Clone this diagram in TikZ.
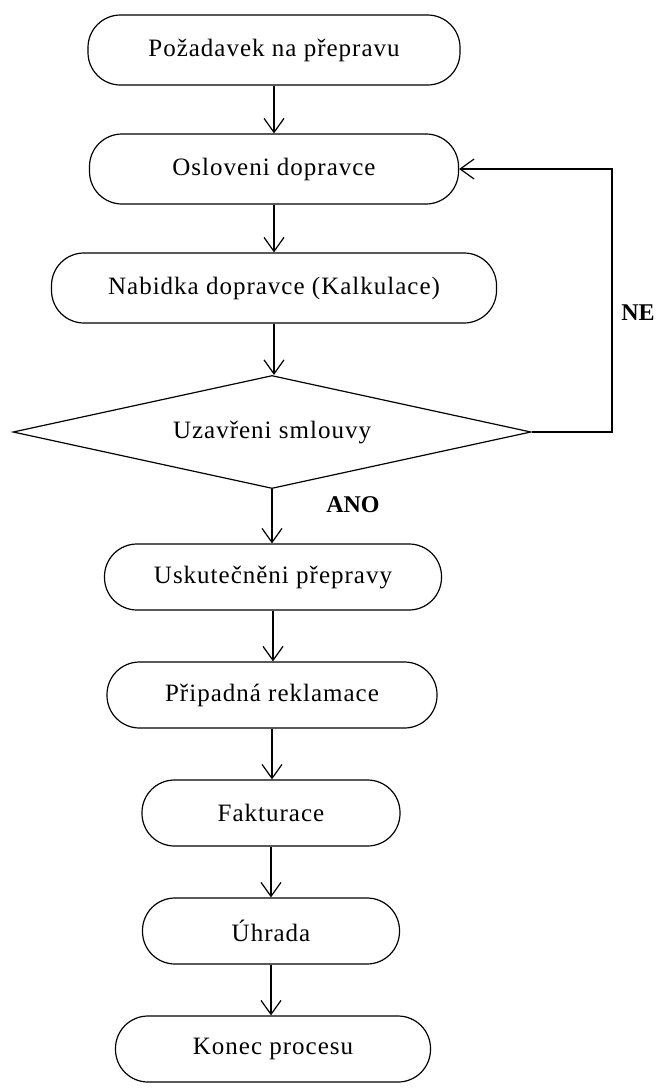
\documentclass[tikz,border=0pt]{standalone}
\usepackage{fontspec}
\setmainfont{Liberation Serif}[LetterSpace=4]
\usetikzlibrary{arrows.meta,shapes.geometric}
\begin{document}
\begin{tikzpicture}[x=1pt,y=-1pt,
  term/.style={draw,line width=1.2pt,rounded corners=32.5pt,inner sep=0pt,minimum height=70pt,
    font=\fontsize{25}{29}\selectfont},
  decision/.style={draw,line width=1.2pt,diamond,inner sep=0pt,aspect=4.6,minimum width=518pt,minimum height=113pt,
    font=\fontsize{25}{29}\selectfont},
  lbl/.style={font=\fontsize{24}{28}\selectfont\bfseries\addfontfeature{LetterSpace=0}},
  arr/.style={line width=1.2pt,-{Straight Barb[length=14pt,width=20pt,line width=1.2pt]}}]
\useasboundingbox (0,0) rectangle (671,1090);
\node[term,minimum width=372pt] (n1) at (274,50) {Požadavek na přepravu};
\node[term,minimum width=369pt] (n2) at (274,169) {Osloveni dopravce};
\node[term,minimum width=445pt] (n3) at (274,288) {Nabidka dopravce (Kalkulace)};
\node[decision] (d) at (272,432) {Uzavřeni smlouvy};
\node[term,minimum width=337pt,minimum height=66pt] (n5) at (273,577) {Uskutečněni přepravy};
\node[term,minimum width=330pt,minimum height=66pt] (n6) at (272,695) {Připadná reklamace};
\node[term,minimum width=258pt,minimum height=66pt] (n7) at (271,813) {Fakturace};
\node[term,minimum width=257pt,minimum height=66pt] (n8) at (271,931) {Úhrada};
\node[term,minimum width=315pt,minimum height=66pt] (n9) at (273,1049) {Konec procesu};
\node[lbl] (ano) at (353,505) {ANO};
\node[lbl] (ne) at (638,313) {NE};
\coordinate (loop) at (612,432);
\draw[arr] (n1.south) -- (n2.north);
\draw[arr] (n2.south) -- (n3.north);
\draw[arr] (n3.south) -- (n3.south |- d.north);
\draw[arr] (d.south) -- (d.south |- n5.north);
\draw[arr] (n5.south) -- (n5.south |- n6.north);
\draw[arr] (n6.south) -- (n6.south |- n7.north);
\draw[arr] (n7.south) -- (n7.south |- n8.north);
\draw[arr] (n8.south) -- (n8.south |- n9.north);
\draw[arr] (d.east) -- (loop) |- (n2.east);
\end{tikzpicture}
\end{document}
